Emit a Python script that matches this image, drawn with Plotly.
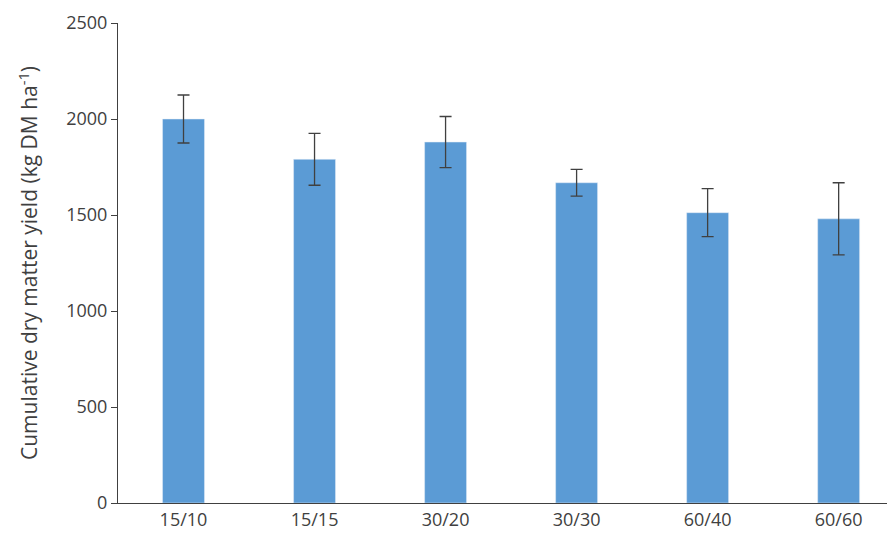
import plotly.graph_objects as go

# treatment labels and cumulative yield
treatments = ["15/10", "15/15", "30/20", "30/30", "60/40", "60/60"]
yield_dm = [2000, 1790, 1880, 1668, 1512, 1480]
yield_err = [125, 135, 133, 70, 125, 188]
y_ticks = [0, 500, 1000, 1500, 2000, 2500]

fig = go.Figure()
fig.add_trace(go.Bar(
    x=treatments, y=yield_dm,
    marker_color="#5b9bd5", width=0.32,
    error_y=dict(type="data", array=yield_err, color="#404040", thickness=1.3, width=6),
))

fig.update_layout(
    width=887, height=540,
    margin=dict(l=110, r=0, t=15, b=45),
    plot_bgcolor="white", paper_bgcolor="white",
    font=dict(family="Open Sans", size=18, color="#404040"),
    showlegend=False,
)
fig.update_xaxes(range=[-0.5, 5.43], showline=True, linecolor="#404040", linewidth=1,
                 ticks="outside", ticklen=0, tickfont=dict(size=18))
fig.update_yaxes(range=[0, 2500], tickvals=y_ticks, showline=True, linecolor="#404040", linewidth=1,
                 ticks="outside", ticklen=6, tickcolor="#404040", showgrid=False,
                 tickfont=dict(size=18), zeroline=False,
                 title=dict(text="Cumulative dry matter yield (kg DM ha<sup>-1</sup>)",
                            font=dict(size=21), standoff=22))

fig.write_html("out.html")
